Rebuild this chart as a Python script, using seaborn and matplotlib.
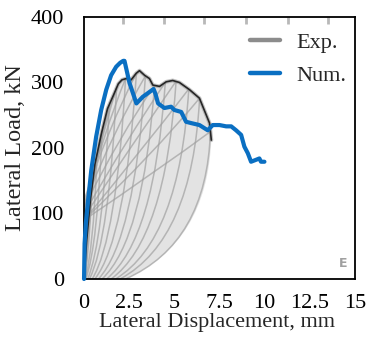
import matplotlib
matplotlib.use("Agg")
import matplotlib.pyplot as plt
from matplotlib.path import Path
from matplotlib.patches import PathPatch
from matplotlib.lines import Line2D
import seaborn as sns
import pandas as pd

# ---- numerical pushover curve (displacement mm, load kN) ----
num_disp = [0, 0.03, 0.1, 0.21, 0.4, 0.67, 0.95, 1.23, 1.5, 1.78, 2.0, 2.17, 2.24,
            2.52, 2.9, 3.25, 3.6, 3.85, 3.95, 4.1, 4.45, 4.82, 5.0, 5.38, 5.65,
            5.93, 6.39, 6.85, 7.13, 7.5, 7.87, 8.15, 8.42, 8.7, 8.88, 9.07, 9.25,
            9.53, 9.71, 9.8, 9.99]
num_load = [0, 54, 85, 116, 166, 217, 258, 289, 311, 324, 330, 333, 333,
            299, 268, 278, 285, 290, 283, 268, 261, 263, 258, 255, 240,
            238, 235, 227, 235, 235, 233, 233, 227, 220, 202, 192, 179,
            182, 184, 179, 179]

# ---- experimental envelope ----
env_disp = [0, 0.15, 0.35, 0.6, 0.97, 1.3, 1.62, 1.9, 2.1, 2.34, 2.61, 2.89, 3.07,
            3.35, 3.62, 3.81, 4.18, 4.55, 4.91, 5.28, 5.84, 6.39, 6.95, 7.05]
env_load = [0, 60, 120, 175, 223, 260, 280, 298, 304, 306, 304, 314, 318,
            311, 306, 296, 294, 301, 303, 300, 289, 276, 238, 212]

# ---- experimental cycles: reloading from residual displacement to peak ----
cyc_res = [0.0, 0.05, 0.1, 0.2, 0.3, 0.45, 0.6, 0.8, 1.0, 1.25, 1.5, 1.75, 2.0, 2.3]
cyc_peak_d = [0.4, 0.7, 1.0, 1.4, 1.8, 2.3, 2.9, 3.4, 3.9, 4.5, 5.1, 5.8, 6.4, 7.0]
cyc_peak_f = [120, 175, 225, 265, 292, 306, 314, 310, 295, 300, 302, 290, 276, 225]
rel_ctrl_d = [0.25, 0.5, 0.75, 1.05, 1.4, 1.8, 2.3, 2.8, 3.3, 3.9, 4.5, 5.3, 6.0, 6.8]
rel_ctrl_f = [30, 40, 50, 55, 60, 60, 60, 60, 60, 60, 60, 60, 60, 55]
# unloading branches: load where they cross zero displacement, and bend point
unl_f0 = [40, 60, 75, 90, 100, 110, 120, 115, 110, 100, 95, 90, 90, 90]
unl_ctrl_d = [0.15, 0.3, 0.45, 0.7, 0.9, 1.1, 1.4, 1.7, 2.0, 2.4, 2.8, 3.3, 3.8, 4.3]
unl_ctrl_f = [90, 130, 160, 190, 210, 225, 235, 230, 220, 215, 210, 200, 190, 170]

x_ticks = [0, 2.5, 5, 7.5, 10, 12.5, 15]
x_tick_labels = ["0", "2.5", "5", "7.5", "10", "12.5", "15"]
y_ticks = [0, 100, 200, 300, 400]
# faint tick marks printed along the top of the test record
top_marks = [2.15, 4.45, 6.67, 8.98, 11.28, 13.49]

sns.set_theme(style="white")
plt.rcParams["font.family"] = ["Liberation Serif", "DejaVu Serif"]

fig = plt.figure(figsize=(3.67, 3.39), dpi=100)
ax = fig.add_axes([0.229, 0.177, 0.738, 0.773])

# shaded area enclosed by the envelope and the last reloading branch
n = len(cyc_res) - 1
verts = list(zip(env_disp, env_load))
verts += [(rel_ctrl_d[n], rel_ctrl_f[n]), (cyc_res[n], 0), (0, 0)]
codes = [Path.MOVETO] + [Path.LINETO] * (len(env_disp) - 1)
codes += [Path.CURVE3, Path.CURVE3, Path.CLOSEPOLY]
ax.add_patch(PathPatch(Path(verts, codes), fc="#cdcdcd", ec="none",
                       alpha=0.55, zorder=1))

cyc_color = "#a0a0a0"
for i in range(len(cyc_res)):
    reload = Path([(cyc_res[i], 0), (rel_ctrl_d[i], rel_ctrl_f[i]),
                   (cyc_peak_d[i], cyc_peak_f[i])],
                  [Path.MOVETO, Path.CURVE3, Path.CURVE3])
    unload = Path([(cyc_peak_d[i], cyc_peak_f[i]), (unl_ctrl_d[i], unl_ctrl_f[i]),
                   (0, unl_f0[i])],
                  [Path.MOVETO, Path.CURVE3, Path.CURVE3])
    for p in (reload, unload):
        ax.add_patch(PathPatch(p, fill=False, ec=cyc_color, lw=1.1, alpha=0.7,
                               zorder=2))

env_df = pd.DataFrame({"disp": env_disp, "load": env_load})
sns.lineplot(data=env_df, x="disp", y="load", sort=False, estimator=None,
             color="#9a9a9a", lw=2.8, alpha=0.6, ax=ax, zorder=3)
sns.lineplot(data=env_df, x="disp", y="load", sort=False, estimator=None,
             color="#262626", lw=1.2, ax=ax, zorder=3)

num_df = pd.DataFrame({"disp": num_disp, "load": num_load})
sns.lineplot(data=num_df, x="disp", y="load", sort=False, estimator=None,
             color="#0a6fc2", lw=3.0, ax=ax, zorder=4, clip_on=False)

ax.text(0.955, 0.06, "E", transform=ax.transAxes, ha="center", va="center",
        fontsize=9, color="#a0a0a0", family="DejaVu Sans", fontweight="bold")

ax.set_xlim(0, 15)
ax.set_ylim(0, 400)
ax.set_xticks(x_ticks)
ax.set_xticklabels(x_tick_labels)
ax.set_yticks(y_ticks)
ax.tick_params(axis="both", direction="inout", length=7, width=1.2,
               colors="black", labelsize=16)
ax.tick_params(axis="x", pad=7)
ax.tick_params(axis="y", pad=11)
for s in ax.spines.values():
    s.set_color("black")
    s.set_linewidth(1.3)

top = ax.secondary_xaxis("top")
top.set_xticks(top_marks)
top.tick_params(direction="in", length=5, width=2, colors="#b8b8b8",
                labeltop=False)
top.spines["top"].set_visible(False)

ax.set_xlabel("Lateral Displacement, mm", fontsize=16)
ax.xaxis.set_label_coords(0.49, -0.128)
ax.set_ylabel("Lateral Load, kN", fontsize=17.5)
ax.yaxis.set_label_coords(-0.215, 0.5)

handles = [Line2D([0], [0], color="#8c8c8c", lw=3.2),
           Line2D([0], [0], color="#0a6fc2", lw=3.2)]
ax.legend(handles, ["Exp.", "Num."], loc="upper right", frameon=False,
          fontsize=16, handlelength=1.35, handletextpad=0.7, labelspacing=0.55,
          bbox_to_anchor=(1.0, 0.975), borderaxespad=0.0)

fig.savefig("out.png", dpi=100)
